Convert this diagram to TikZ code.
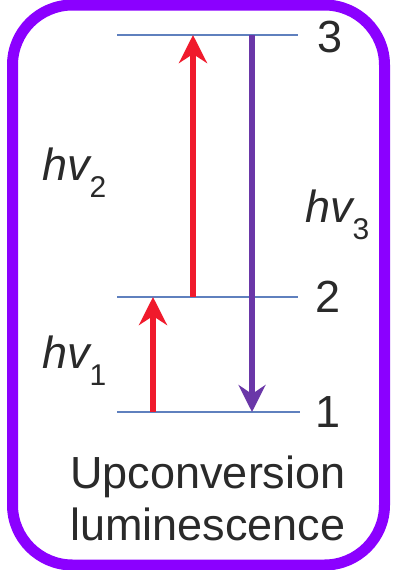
\documentclass[tikz,border=0pt]{standalone}
\usepackage{fontspec}
\setmainfont{Liberation Sans}
\usetikzlibrary{arrows.meta}
\definecolor{bordercol}{HTML}{8B00FF}
\definecolor{levelcol}{HTML}{5F80BE}
\definecolor{redarrow}{HTML}{F01A2C}
\definecolor{purplearrow}{HTML}{6A37A8}
\definecolor{textcol}{HTML}{2A2A2A}
\tikzset{
  level/.style={draw=levelcol, line width=2.6pt},
  uparrow/.style={draw=redarrow, line width=6.5pt, -{Stealth[length=28pt, width=28pt, inset=9pt]}},
  downarrow/.style={draw=purplearrow, line width=5.5pt, -{Stealth[length=27pt, width=27pt, inset=9pt]}},
  lvllabel/.style={inner sep=0pt, anchor=base, text=textcol, font=\fontsize{45}{45}\selectfont},
  photon/.style={inner sep=0pt, anchor=base west, text=textcol, font=\fontsize{45}{45}\selectfont\itshape},
  caption/.style={inner sep=0pt, anchor=base, text=textcol, font=\fontsize{45}{45}\selectfont}
}
\newcommand{\photonlab}[1]{hv\raisebox{-17pt}{\fontsize{30}{30}\selectfont\upshape #1}}
\begin{document}
\begin{tikzpicture}[x=1pt, y=-1pt]
\useasboundingbox (0,0) rectangle (392,570);
\fill[white] (0,0) rectangle (392,570);
\draw[draw=bordercol, line width=11pt, rounded corners=60pt] (12.5,5) rectangle (384.5,565);
% energy levels
\coordinate (L3a) at (117,35);
\coordinate (L3b) at (298,35);
\coordinate (L2a) at (117,297);
\coordinate (L2b) at (298,297);
\coordinate (L1a) at (117,412);
\coordinate (L1b) at (300,412);
\draw[level] (L3a) -- (L3b);
\draw[level] (L2a) -- (L2b);
\draw[level] (L1a) -- (L1b);
% arrow end points
\coordinate (r1s) at (153,412);
\coordinate (r1e) at (153,297);
\coordinate (r2s) at (193,297);
\coordinate (r2e) at (193,35);
\coordinate (ps) at (252,35);
\coordinate (pe) at (252,412);
\draw[uparrow] (r1s) -- (r1e);
\draw[uparrow] (r2s) -- (r2e);
\draw[downarrow] (ps) -- (pe);
% level labels
\node[lvllabel] (n3) at (330,52) {3};
\node[lvllabel] (n2) at (328,312) {2};
\node[lvllabel] (n1) at (328,427) {1};
% photon labels
\node[photon] (hv2) at (42,180) {\photonlab{2}};
\node[photon] (hv3) at (305,222) {\photonlab{3}};
\node[photon] (hv1) at (42,368) {\photonlab{1}};
% caption
\node[caption] (cap1) at (208,488) {Upconversion};
\node[caption] (cap2) at (208,540) {luminescence};
\end{tikzpicture}
\end{document}
